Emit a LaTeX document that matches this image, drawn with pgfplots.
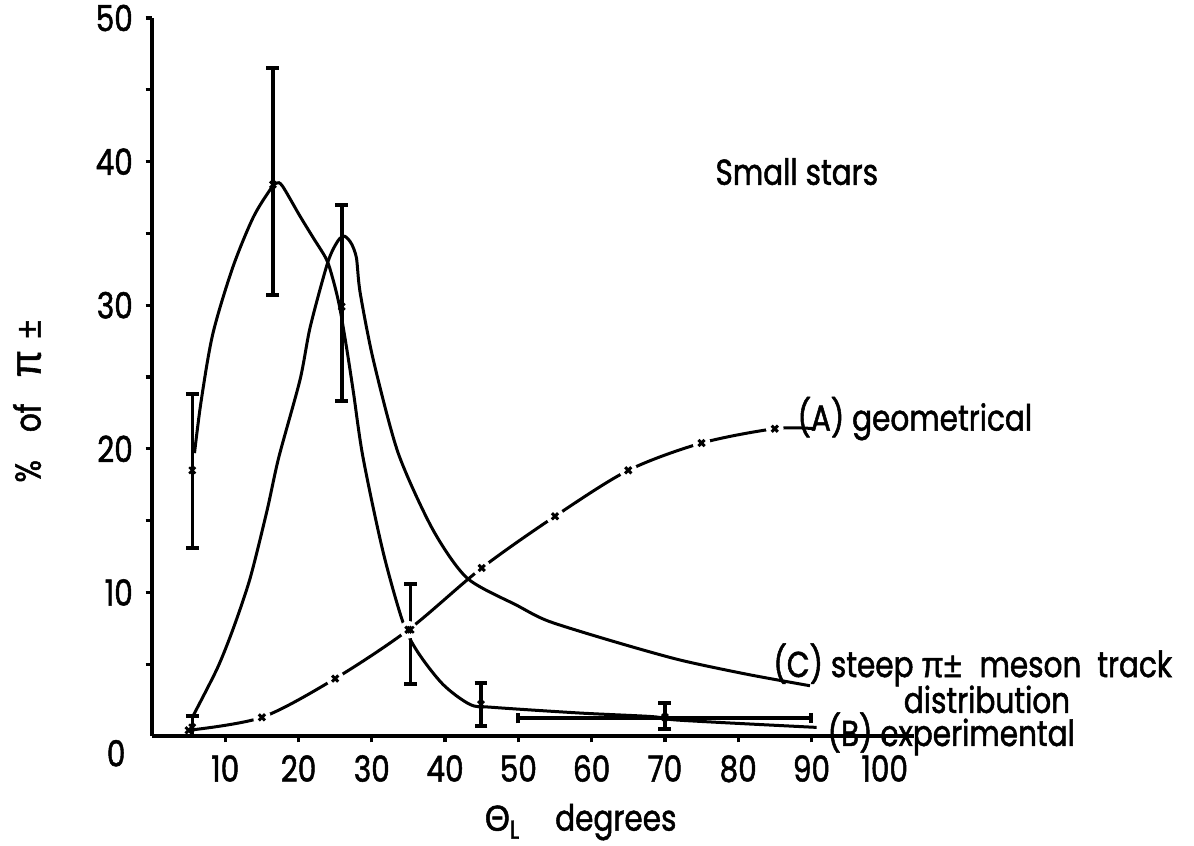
\documentclass[border=0pt]{standalone}
\usepackage{fontspec}
\setmainfont{Poppins}[FakeStretch=0.82, FakeBold=1.4]
\newfontfamily\grk{Liberation Sans}[FakeStretch=0.9, FakeBold=1.4]
\usepackage{pgfplots}
\pgfplotsset{compat=1.18}
\begin{document}
\fontsize{9pt}{11pt}\selectfont
\begin{tikzpicture}
\begin{axis}[
  at={(0,0)}, anchor=south west,
  scale only axis, width=190.5pt, height=179.5pt,
  xmin=0, xmax=104, ymin=0, ymax=50,
  axis lines*=left,
  axis line style={line width=1.1pt, black},
  xtick={10,20,...,100}, ytick={10,20,...,50}, minor ytick={5,15,...,45},
  tick align=outside, major tick length=1.6pt, minor tick length=1.6pt,
  tick style={line width=0.8pt, black},
  /pgf/number format/assume math mode=true,
  ticklabel style={font=\fontsize{9pt}{11pt}\selectfont},
  clip=false,
]
% (A) geometrical
\addplot[black, line width=0.75pt, smooth, tension=0.5] coordinates {
(5,0.4) (15,1.3) (25,4.0) (35,7.4) (45,11.7) (55,15.3) (65,18.5) (75,20.4) (85,21.4) (90.5,21.4)};
\addplot[only marks, mark=*, mark size=2pt, mark options={draw=white, fill=white}] coordinates {
(15,1.3) (25,4.0) (35,7.4) (45,11.7) (55,15.3) (65,18.5) (75,20.4) (85,21.4)};
\addplot[only marks, black, mark=x, mark size=1.1pt, mark options={line width=0.75pt}] coordinates {
(5,0.4) (15,1.3) (25,4.0) (35,7.4) (45,11.7) (55,15.3) (65,18.5) (75,20.4) (85,21.4)};
% (B) experimental curve
\addplot[black, line width=0.75pt, smooth, tension=0.5] coordinates {
(5.8,19.7) (6.7,23.3) (8.3,28.0) (11.0,32.6) (13.8,36.1) (16.2,38.1) (17.0,38.5) (17.8,38.3)
(20.2,36.2) (22.0,34.7) (23.8,33.2) (24.7,31.8) (25.6,29.9) (26.6,26.9) (27.5,23.9) (28.8,19.4)
(31.5,12.9) (34.2,8.0) (36.2,5.9)
(39.7,3.6) (43.4,2.2) (46.4,2.0) (58.4,1.6) (68.3,1.35) (72.0,1.1) (90.7,0.6)};
% (C) steep pi meson track distribution
\addplot[black, line width=0.75pt, smooth, tension=0.45] coordinates {
(5.5,1.3) (8.9,4.7) (11.1,7.5) (13.4,11.0) (15.7,15.7) (17.3,19.4) (20.2,24.8) (21.6,28.5)
(24.0,33.0) (25.4,34.5) (26.3,34.8) (27.2,34.3) (27.9,33.3) (28.4,30.9) (30.2,26.2) (33.6,19.7)
(38.3,14.4) (43.0,11.0) (49.8,9.1) (54.1,8.0) (62.9,6.6) (72.0,5.3) (81.2,4.3) (89.8,3.5)};
% experimental points with error bars
\addplot[black, only marks, mark=x, mark size=1.1pt, mark options={line width=0.6pt},
  error bars/.cd, y dir=both, y explicit,
  error bar style={line width=0.9pt, black},
  error mark options={black, rotate=90, mark size=1.6pt, line width=1pt}]
  table[x=x, y=y, y error plus=ep, y error minus=em] {
x y ep em
5.5 18.5 5.3 5.4
5.5 0.6 0.8 0.6
16.5 38.4 8.1 7.7
25.9 29.9 7.1 6.6
35.3 7.4 3.2 3.8
44.9 2.2 1.5 1.5
70.0 1.3 1.0 0.8
};
\addplot[black, mark=none,
  error bars/.cd, x dir=both, x explicit,
  error bar style={line width=0.9pt, black},
  error mark options={black, rotate=90, mark size=1.3pt, line width=1pt}]
  coordinates {(70,1.25) +- (20,0)};
% texts
\node[anchor=center] at (axis cs:-4.9,-1.2) {0};
\node[anchor=west, inner sep=0pt] at (axis cs:76.8,39.3) {Small stars};
\node[anchor=west, inner sep=0pt] at (axis cs:88.0,22.1) {(A) geometrical};
\node[anchor=west, inner sep=0pt] at (axis cs:84.7,4.95) {(C) steep {\grk π±}\hspace{2.5pt} meson\hspace{2pt} track};
\node[anchor=west, inner sep=0pt] at (axis cs:102.5,2.55) {distribution};
\node[anchor=west, inner sep=0pt] at (axis cs:92.1,0.15) {(B) experimental};
\node[rotate=90, anchor=center] at (axis cs:-17.05,23.3) {\%\hspace{7pt}of\hspace{6.5pt}{\grk\fontsize{11pt}{11pt}\selectfont π}\hspace{3pt}{\grk ±}};
\node[anchor=center] at (axis cs:58.5,-6.0) {{\grk Θ}\raisebox{-2pt}{\fontsize{6.5pt}{7pt}\selectfont L}\hspace{9pt}degrees};
\end{axis}
\pgfresetboundingbox
\path[use as bounding box] (-38pt,-27.25pt) rectangle (260.5pt,184pt);
\end{tikzpicture}
\end{document}
